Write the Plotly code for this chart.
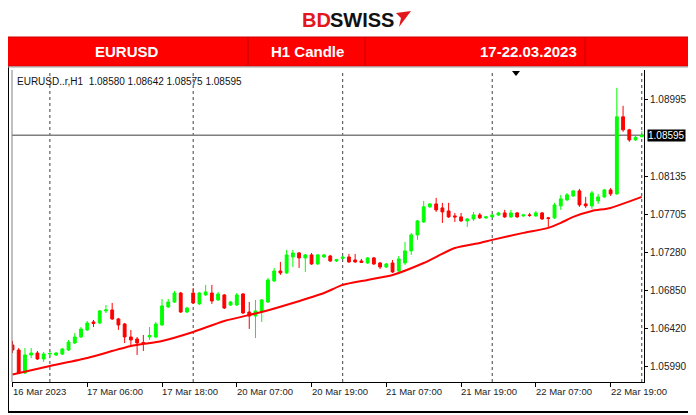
import plotly.graph_objects as go

# ---------------- data (EURUSD H1) ----------------
sessions = [("16 Mar", 18, 23), ("17 Mar", 0, 22), ("20 Mar", 0, 23),
            ("21 Mar", 0, 23), ("22 Mar", 0, 23), ("23 Mar", 0, 0)]
bar_time = [f"{d} {h:02d}:00" for d, a, b in sessions for h in range(a, b + 1)]

open_ = [1.06235, 1.06178, 1.05919, 1.06122, 1.06144, 1.06077, 1.06133, 1.06122, 1.06133, 1.06178,
         1.06257, 1.06325, 1.06404, 1.06494, 1.06482, 1.06618, 1.06629, 1.06528, 1.06471, 1.06325,
         1.06302, 1.06263, 1.06325, 1.06325, 1.06460, 1.06663, 1.06719, 1.06820, 1.06606, 1.06820,
         1.06697, 1.06798, 1.06820, 1.06742, 1.06798, 1.06685, 1.06685, 1.06809, 1.06606, 1.06561,
         1.06606, 1.06719, 1.06956, 1.07068, 1.07046, 1.07226, 1.07271, 1.07215, 1.07249, 1.07147,
         1.07226, 1.07237, 1.07181, 1.07209, 1.07226, 1.07192, 1.07181, 1.07158, 1.07215, 1.07158,
         1.07113, 1.07158, 1.07068, 1.07158, 1.07294, 1.07474, 1.07620, 1.07790, 1.07823, 1.07778,
         1.07744, 1.07688, 1.07677, 1.07632, 1.07654, 1.07699, 1.07666, 1.07677, 1.07699, 1.07722,
         1.07677, 1.07722, 1.07688, 1.07699, 1.07688, 1.07722, 1.07666, 1.07666, 1.07801, 1.07868,
         1.07913, 1.07970, 1.07823, 1.07801, 1.07857, 1.07902, 1.07981, 1.07936, 1.08804, 1.08657,
         1.08544, 1.08580]
high = [1.06280, 1.06201, 1.06201, 1.06201, 1.06167, 1.06156, 1.06167, 1.06156, 1.06201, 1.06291,
        1.06370, 1.06437, 1.06505, 1.06516, 1.06629, 1.06685, 1.06708, 1.06539, 1.06482, 1.06404,
        1.06325, 1.06347, 1.06437, 1.06494, 1.06753, 1.06753, 1.06843, 1.06832, 1.06663, 1.06877,
        1.06832, 1.06911, 1.06911, 1.06832, 1.06809, 1.06730, 1.06820, 1.06820, 1.06719, 1.06742,
        1.06753, 1.06989, 1.07102, 1.07170, 1.07305, 1.07305, 1.07282, 1.07260, 1.07271, 1.07260,
        1.07260, 1.07249, 1.07204, 1.07237, 1.07260, 1.07260, 1.07204, 1.07226, 1.07226, 1.07170,
        1.07158, 1.07192, 1.07237, 1.07395, 1.07497, 1.07643, 1.07857, 1.07835, 1.07891, 1.07835,
        1.07835, 1.07722, 1.07722, 1.07666, 1.07733, 1.07722, 1.07688, 1.07711, 1.07733, 1.07756,
        1.07756, 1.07733, 1.07711, 1.07722, 1.07744, 1.07733, 1.07677, 1.07835, 1.07925, 1.07947,
        1.07981, 1.07992, 1.07902, 1.07970, 1.07936, 1.07992, 1.08003, 1.09130, 1.08928, 1.08669,
        1.08590, 1.08642]
low = [1.06144, 1.05908, 1.05908, 1.06088, 1.06066, 1.06043, 1.06099, 1.06111, 1.06122, 1.06167,
       1.06246, 1.06313, 1.06392, 1.06437, 1.06471, 1.06595, 1.06516, 1.06404, 1.06257, 1.06223,
       1.06122, 1.06167, 1.06291, 1.06313, 1.06449, 1.06651, 1.06708, 1.06595, 1.06595, 1.06697,
       1.06685, 1.06787, 1.06697, 1.06730, 1.06640, 1.06674, 1.06674, 1.06584, 1.06415, 1.06313,
       1.06494, 1.06708, 1.06944, 1.07023, 1.07035, 1.07113, 1.07102, 1.07057, 1.07136, 1.07136,
       1.07215, 1.07170, 1.07170, 1.07204, 1.07158, 1.07158, 1.07158, 1.07147, 1.07136, 1.07091,
       1.07102, 1.07046, 1.07057, 1.07136, 1.07249, 1.07418, 1.07609, 1.07778, 1.07733, 1.07609,
       1.07666, 1.07620, 1.07620, 1.07564, 1.07632, 1.07654, 1.07654, 1.07666, 1.07688, 1.07666,
       1.07666, 1.07666, 1.07677, 1.07677, 1.07677, 1.07643, 1.07564, 1.07654, 1.07756, 1.07857,
       1.07902, 1.07790, 1.07778, 1.07767, 1.07823, 1.07891, 1.07913, 1.07925, 1.08635, 1.08522,
       1.08533, 1.08575]
close = [1.06178, 1.05919, 1.06122, 1.06144, 1.06077, 1.06133, 1.06139, 1.06144, 1.06190, 1.06268,
         1.06325, 1.06415, 1.06482, 1.06477, 1.06618, 1.06629, 1.06528, 1.06460, 1.06325, 1.06291,
         1.06257, 1.06251, 1.06342, 1.06471, 1.06674, 1.06719, 1.06820, 1.06606, 1.06651, 1.06708,
         1.06820, 1.06832, 1.06730, 1.06809, 1.06651, 1.06719, 1.06798, 1.06595, 1.06561, 1.06618,
         1.06742, 1.06967, 1.07068, 1.07046, 1.07249, 1.07271, 1.07215, 1.07249, 1.07147, 1.07249,
         1.07249, 1.07181, 1.07198, 1.07226, 1.07170, 1.07170, 1.07164, 1.07215, 1.07147, 1.07113,
         1.07147, 1.07057, 1.07204, 1.07294, 1.07474, 1.07632, 1.07790, 1.07823, 1.07756, 1.07733,
         1.07677, 1.07677, 1.07632, 1.07654, 1.07699, 1.07666, 1.07677, 1.07699, 1.07722, 1.07677,
         1.07722, 1.07677, 1.07699, 1.07694, 1.07722, 1.07654, 1.07660, 1.07812, 1.07880, 1.07925,
         1.07970, 1.07812, 1.07801, 1.07947, 1.07902, 1.07981, 1.07936, 1.08804, 1.08657, 1.08544,
         1.08573, 1.08595]

# moving average line (red), read at a set of bars
ma_bar = [0, 6, 12, 19, 24, 29, 34, 40, 45, 50, 53, 57, 61, 66, 71, 75, 77, 82, 86, 88, 90, 93, 96, 101]
ma_val = [1.05902, 1.05998, 1.06088, 1.06223, 1.06280, 1.06381, 1.06505, 1.06606, 1.06708, 1.06820,
          1.06911, 1.06967, 1.07023, 1.07158, 1.07327, 1.07384, 1.07418, 1.07497, 1.07553, 1.07609,
          1.07677, 1.07744, 1.07778, 1.07902]

x_tick_bar = [0, 12, 24, 36, 48, 60, 72, 84, 96]
x_tick_text = ["16 Mar 2023", "17 Mar 06:00", "17 Mar 18:00", "20 Mar 07:00", "20 Mar 19:00",
               "21 Mar 07:00", "21 Mar 19:00", "22 Mar 07:00", "22 Mar 19:00"]
y_tick_vals = [1.05990, 1.06420, 1.06850, 1.07280, 1.07705, 1.08135, 1.08995]
y_tick_text = ["1.05990", "1.06420", "1.06850", "1.07280", "1.07705", "1.08135", "1.08995"]
day_sep_bar = [6, 29, 53, 77, 101]
last_price = 1.08595
header_info = "EURUSD..r,H1  1.08580 1.08642 1.08575 1.08595"

# ---------------- layout geometry ----------------
# the page body has an 8px margin, so the figure is drawn 8px smaller and
# every window-pixel position below is shifted by that offset
OFF = 8
W, H = 696 - OFF, 415 - OFF
PL, PR, PT, PB = 12 - OFF, 644 - OFF, 70 - OFF, 382 - OFF


def px(X):
    return (X - OFF - PL) / (PR - PL)


def py(Y):
    return (PB - (Y - OFF)) / (PB - PT)


bar_idx = list(range(len(open_)))

fig = go.Figure()
fig.add_trace(go.Candlestick(
    x=bar_idx, open=open_, high=high, low=low, close=close,
    text=bar_time, hoverinfo="text+y",
    increasing=dict(line=dict(color="#00FF00", width=1), fillcolor="#00FF00"),
    decreasing=dict(line=dict(color="#FF0000", width=1), fillcolor="#FF0000"),
    whiskerwidth=0, showlegend=False))
fig.add_trace(go.Scatter(x=ma_bar, y=ma_val, mode="lines",
                         line=dict(color="#FF0000", width=2, shape="spline", smoothing=0.6),
                         hoverinfo="skip", showlegend=False))

shapes = []
for b in day_sep_bar:
    shapes.append(dict(type="line", xref="x", yref="paper", x0=b, x1=b, y0=0, y1=1,
                       line=dict(color="#404040", width=1, dash="dot"), layer="below"))
shapes.append(dict(type="line", xref="paper", yref="y", x0=0, x1=1, y0=last_price, y1=last_price,
                   line=dict(color="#7f7f7f", width=1.5), layer="below"))
shapes.append(dict(type="line", xref="paper", yref="paper", x0=0, x1=0, y0=0, y1=1,
                   line=dict(color="#808080", width=1)))
# outer frame
shapes.append(dict(type="line", xref="paper", yref="paper", x0=px(8.5), x1=px(8.5), y0=py(412), y1=py(66),
                   line=dict(color="#000000", width=1)))
shapes.append(dict(type="line", xref="paper", yref="paper", x0=px(8), x1=px(691), y0=py(412), y1=py(412),
                   line=dict(color="#000000", width=2)))
shapes.append(dict(type="line", xref="paper", yref="paper", x0=px(691), x1=px(691), y0=py(412), y1=py(66),
                   line=dict(color="#000000", width=1.5)))
# red banner
shapes.append(dict(type="rect", xref="paper", yref="paper", x0=px(6), x1=px(692), y0=py(66), y1=py(37),
                   fillcolor="#FF0000", line=dict(color="#D00000", width=1)))
for X in [248, 365, 585]:
    shapes.append(dict(type="line", xref="paper", yref="paper", x0=px(X), x1=px(X), y0=py(66), y1=py(37),
                       line=dict(color="#C80000", width=1)))
shapes.append(dict(type="line", xref="paper", yref="paper", x0=px(6), x1=px(692), y0=py(67), y1=py(67),
                   line=dict(color="#A0A0A0", width=1)))
# shift marker
shapes.append(dict(type="path", xref="paper", yref="paper",
                   path=f"M {px(512)},{py(71)} L {px(520)},{py(71)} L {px(516)},{py(76)} Z",
                   fillcolor="#000000", line=dict(color="#000000", width=0)))
# logo mark
shapes.append(dict(type="path", xref="paper", yref="paper",
                   path=f"M {px(396)},{py(13)} L {px(411)},{py(11)} L {px(399)},{py(27)} L {px(401)},{py(18)} Z",
                   fillcolor="#E3161B", line=dict(color="#E3161B", width=0)))

annotations = []
for b, t in zip(x_tick_bar, x_tick_text):
    annotations.append(dict(x=b, xref="x", y=0, yref="paper", yanchor="top", xanchor="left",
                            xshift=-2, yshift=-2, text=t, showarrow=False,
                            font=dict(family="Liberation Sans", size=9.5, color="#222222")))
annotations.append(dict(x=1, xref="paper", y=last_price, yref="y", xanchor="left", yanchor="middle",
                        xshift=3, text=f"{last_price:.5f}", showarrow=False, bgcolor="#000000",
                        borderpad=0, font=dict(family="Liberation Sans", size=10, color="#FFFFFF")))
annotations.append(dict(x=px(15), xref="paper", y=py(81), yref="paper", xanchor="left", yanchor="middle",
                        text=header_info, showarrow=False,
                        font=dict(family="Liberation Sans", size=10, color="#111111")))
for cx, t in [(127, "EURUSD"), (307, "H1 Candle"), (528, "17-22.03.2023")]:
    annotations.append(dict(x=px(cx), xref="paper", y=py(51), yref="paper", xanchor="center",
                            yanchor="middle", text=f"<b>{t}</b>", showarrow=False,
                            font=dict(family="Liberation Sans", size=15, color="#FFFFFF")))
# logo text (kept fully inside the figure's top edge)
annotations.append(dict(x=px(330), xref="paper", y=py(8), yref="paper", xanchor="right", yanchor="top",
                        xshift=1.5, text="<b>BD</b>", showarrow=False, borderpad=0,
                        font=dict(family="Liberation Sans", size=20, color="#E3161B")))
annotations.append(dict(x=px(330), xref="paper", y=py(8), yref="paper", xanchor="left", yanchor="top",
                        xshift=-1.5, text="<b>SWISS</b>", showarrow=False, borderpad=0,
                        font=dict(family="Liberation Sans", size=20, color="#111111")))

fig.update_layout(
    width=W, height=H, paper_bgcolor="white", plot_bgcolor="white",
    margin=dict(l=PL, r=W - PR, t=PT, b=H - PB, pad=0),
    showlegend=False, shapes=shapes, annotations=annotations, boxgap=0.35,
    xaxis=dict(range=[-0.08, 101.36], showgrid=False, zeroline=False, showline=True,
               linecolor="#000000", linewidth=1, ticks="outside", ticklen=4, tickcolor="#000000",
               tickvals=x_tick_bar, showticklabels=False, rangeslider=dict(visible=False),
               fixedrange=True),
    yaxis=dict(range=[1.058177, 1.093312], side="right", showgrid=False, zeroline=False,
               showline=True, linecolor="#000000", linewidth=1, ticks="outside", ticklen=3,
               tickcolor="#000000", tickvals=y_tick_vals, ticktext=y_tick_text,
               tickfont=dict(family="Liberation Sans", size=10, color="#222222"), fixedrange=True),
)

fig.write_html("out.html")
